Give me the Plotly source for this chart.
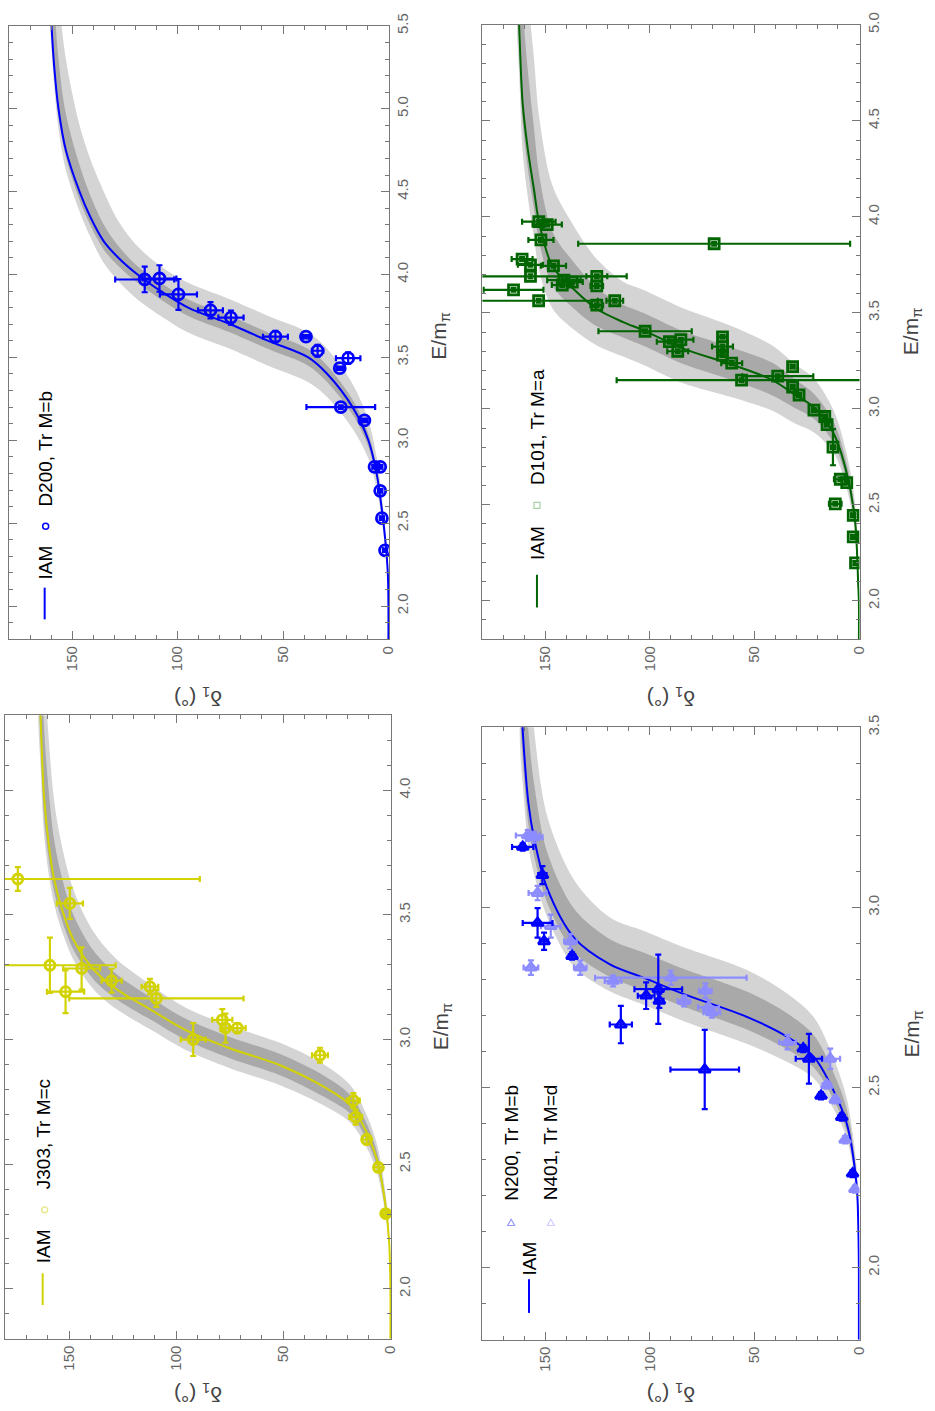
import plotly.graph_objects as go

# ---------------- D200 (Tr M=b) ----------------
D200_CURVE_DELTA = [0, 0, 0.3, 1.5, 3.3, 5.6, 9.5, 17, 29, 38, 57, 75, 95, 108, 119, 128, 135, 141.5, 146.5, 153, 156.5, 158.5, 160, 162]
D200_CURVE_E = [1.80, 2.00, 2.20, 2.40, 2.60, 2.80, 3.00, 3.20, 3.40, 3.50, 3.60, 3.70, 3.80, 3.90, 4.00, 4.10, 4.20, 4.35, 4.50, 4.75, 5.00, 5.25, 5.55, 6.20]
D200_LIGHT_HI = [2.26, 2.47, 2.68, 2.90, 3.12, 3.34, 3.55, 3.65, 3.75, 3.85, 3.95, 4.05, 4.17, 4.32, 4.50, 4.70, 4.90, 5.30, 5.70, 6.15, 6.75, 7.70]
D200_LIGHT_LO = [2.15, 2.34, 2.53, 2.71, 2.89, 3.07, 3.26, 3.35, 3.45, 3.55, 3.65, 3.75, 3.85, 3.96, 4.07, 4.23, 4.38, 4.63, 4.88, 5.13, 5.40, 5.90]
D200_DARK_HI = [2.22, 2.425, 2.63, 2.835, 3.04, 3.245, 3.45, 3.55, 3.65, 3.75, 3.85, 3.95, 4.05, 4.17, 4.30, 4.48, 4.66, 4.97, 5.30, 5.65, 6.05, 6.90]
D200_DARK_LO = [2.18, 2.375, 2.57, 2.765, 2.96, 3.155, 3.35, 3.45, 3.55, 3.65, 3.75, 3.85, 3.95, 4.05, 4.15, 4.30, 4.45, 4.71, 4.96, 5.21, 5.51, 6.10]
D200_E = [3.97, 3.976, 3.88, 3.784, 3.74, 3.625, 3.625, 3.54, 3.495, 3.435, 3.20, 3.12, 2.84, 2.84, 2.695, 2.53, 2.336]
D200_DELTA = [115.6, 108.6, 99.6, 84.4, 74.7, 53.6, 39.1, 33.6, 19.1, 23.1, 22.6, 11.4, 6.6, 3.9, 3.9, 3.1, 1.6]
D200_DDELTA = [14, 8, 8.8, 5.9, 6, 5.9, 1.5, 2.7, 5.8, 1.5, 16.3, 1.5, 1, 1, 1, 1, 1]
D200_DE = [0.077, 0.08, 0.093, 0.049, 0.043, 0.035, 0.01, 0.035, 0.035, 0.01, 0.01, 0.01, 0.01, 0.01, 0.01, 0.01, 0.01]

# ---------------- D101 (Tr M=a) ----------------
D101_CURVE_DELTA = [0, 0, 0.3, 1.9, 5.8, 12, 21.4, 30.8, 41.8, 60.7, 84.3, 103.2, 112.7, 125.3, 136.3, 146.5, 152.8, 155.3, 158.5, 160.8, 162.4, 163.5]
D101_CURVE_E = [1.80, 2.00, 2.08, 2.425, 2.664, 2.87, 3.007, 3.075, 3.152, 3.23, 3.315, 3.41, 3.452, 3.52, 3.623, 3.743, 3.966, 4.14, 4.37, 4.60, 4.99, 5.30]
D101_LIGHT_HI = [2.16, 2.515, 2.764, 2.99, 3.157, 3.235, 3.332, 3.43, 3.525, 3.62, 3.662, 3.78, 3.953, 4.163, 4.516, 4.82, 5.19, 5.60, 6.19, 6.70]
D101_LIGHT_LO = [2.02, 2.355, 2.584, 2.77, 2.877, 2.925, 2.992, 3.06, 3.135, 3.23, 3.272, 3.33, 3.413, 3.523, 3.716, 3.89, 4.12, 4.35, 4.74, 5.00]
D101_DARK_HI = [2.12, 2.465, 2.714, 2.93, 3.077, 3.155, 3.242, 3.32, 3.405, 3.50, 3.542, 3.63, 3.763, 3.923, 4.216, 4.46, 4.79, 5.12, 5.61, 6.02]
D101_DARK_LO = [2.05, 2.395, 2.624, 2.82, 2.947, 3.005, 3.072, 3.15, 3.235, 3.33, 3.372, 3.43, 3.523, 3.643, 3.866, 4.04, 4.27, 4.50, 4.89, 5.18]
D101_E = [3.975, 3.96, 3.88, 3.86, 3.78, 3.75, 3.745, 3.69, 3.69, 3.64, 3.67, 3.645, 3.66, 3.62, 3.563, 3.563, 3.54,
          3.404, 3.35, 3.36, 3.30, 3.375, 3.324, 3.28, 3.238, 3.149, 3.17, 3.22, 3.113, 3.072, 2.993, 2.96, 2.918,
          2.80, 2.633, 2.616, 2.505, 2.445, 2.333, 2.197]
D101_DELTA = [153, 149, 152, 69.2, 161, 157, 146, 157, 125.3, 125.3, 141, 141.8, 137, 165.1, 153.1, 116.7, 125.3,
              102.2, 90.6, 85.1, 86.6, 65.2, 65.2, 65.2, 60.8, 56.1, 38.8, 31.7, 31.7, 28.6, 21.5, 16.3, 15.2,
              12.4, 8.9, 5.8, 11.3, 2.7, 2.7, 1.6]
D101_DDELTA = [8, 7, 6, 65, 5, 6, 6, 46, 5, 3, 8, 5, 5, 14.3, 28.3, 4, 3,
               22.3, 6, 6, 5, 2, 5, 2, 5, 59.7, 17, 1, 1, 1, 1, 1, 1,
               1, 3, 1, 3, 1, 1, 1]
D101_DE = [0.01] * 33 + [0.094] + [0.01] * 6

# ---------------- J303 (Tr M=c) ----------------
J303_CURVE_DELTA = [0, 0, 0.6, 2.2, 6.0, 10.7, 18.5, 31, 51, 75, 96, 112, 127.6, 138.5, 148, 154, 157.2, 159.5, 161.8, 163.4, 164.5]
J303_CURVE_E = [1.80, 2.00, 2.19, 2.33, 2.51, 2.62, 2.735, 2.81, 2.895, 2.965, 3.04, 3.12, 3.20, 3.28, 3.40, 3.54, 3.65, 3.78, 3.98, 4.30, 4.60]
J303_LIGHT_HI = [2.23, 2.38, 2.57, 2.69, 2.815, 2.90, 2.985, 3.055, 3.13, 3.22, 3.32, 3.43, 3.60, 3.80, 3.97, 4.20, 4.53, 5.05, 5.60]
J303_LIGHT_LO = [2.16, 2.29, 2.46, 2.56, 2.665, 2.735, 2.815, 2.885, 2.96, 3.04, 3.12, 3.20, 3.32, 3.45, 3.55, 3.66, 3.83, 4.10, 4.30]
J303_DARK_HI = [2.21, 2.35, 2.54, 2.655, 2.775, 2.855, 2.94, 3.01, 3.085, 3.17, 3.26, 3.355, 3.50, 3.67, 3.81, 3.99, 4.26, 4.68, 5.10]
J303_DARK_LO = [2.175, 2.31, 2.485, 2.59, 2.70, 2.77, 2.855, 2.925, 3.00, 3.08, 3.16, 3.24, 3.36, 3.495, 3.60, 3.72, 3.90, 4.20, 4.45]
J303_E = [3.644, 3.546, 3.298, 3.285, 3.192, 3.236, 3.212, 3.165, 3.00, 3.079, 3.046, 3.046, 2.937, 2.755, 2.689, 2.599, 2.487, 2.302]
J303_DELTA = [174.0, 149.7, 159.0, 144.2, 151.7, 130.2, 112.3, 109.3, 92.1, 78.5, 77.0, 71.5, 32.9, 17.3, 16.2, 11.1, 5.6, 2.2]
J303_DDELTA = [85.0, 6.1, 30.7, 8.6, 8.7, 4.7, 3.9, 40.7, 5.8, 4.7, 2, 3.9, 3.7, 3, 3, 2, 2, 1.5]
J303_DE = [0.048, 0.062, 0.111, 0.085, 0.086, 0.048, 0.031, 0.034, 0.066, 0.043, 0.058, 0.02, 0.03, 0.03, 0.03, 0.02, 0.015, 0.01]

# ---------------- N200 (Tr M=b) / N401 (Tr M=d) ----------------
N200_CURVE_DELTA = [0, 0, 0.3, 1.1, 5.8, 12, 21.5, 34, 53, 84, 103, 119, 136, 149, 155.2, 158, 160.8, 162]
N200_CURVE_E = [1.80, 2.00, 2.12, 2.23, 2.40, 2.49, 2.585, 2.64, 2.695, 2.76, 2.805, 2.842, 2.915, 3.053, 3.19, 3.29, 3.50, 3.65]
N200_LIGHT_HI = [2.16, 2.28, 2.47, 2.58, 2.695, 2.76, 2.825, 2.89, 2.935, 2.972, 3.075, 3.253, 3.49, 3.69, 4.05, 4.35]
N200_LIGHT_LO = [2.09, 2.20, 2.36, 2.44, 2.525, 2.57, 2.62, 2.685, 2.73, 2.767, 2.835, 2.973, 3.09, 3.17, 3.35, 3.45]
N200_DARK_HI = [2.14, 2.26, 2.44, 2.54, 2.645, 2.705, 2.765, 2.83, 2.875, 2.912, 2.995, 3.153, 3.34, 3.49, 3.80, 4.05]
N200_DARK_LO = [2.105, 2.215, 2.38, 2.465, 2.555, 2.605, 2.66, 2.725, 2.77, 2.807, 2.875, 3.013, 3.14, 3.23, 3.42, 3.55]
N200_E = [3.168, 3.09, 2.957, 2.906, 2.865, 2.755, 2.773, 2.741, 2.675, 2.55, 2.608, 2.58, 2.477, 2.418, 2.261]
N200_DELTA = [160.7, 151.3, 153.6, 150.5, 137.1, 101.7, 95.9, 95.4, 113.8, 73.7, 26.6, 23.9, 18.1, 8.2, 3.0]
N200_DDELTA = [5.1, 2, 7.1, 2, 1.5, 4, 11.4, 2, 5.3, 16.4, 1.5, 6.3, 1.5, 1.5, 1]
N200_DE = [0.01, 0.025, 0.041, 0.024, 0.01, 0.037, 0.096, 0.02, 0.052, 0.11, 0.01, 0.069, 0.01, 0.01, 0.01]
N401_E = [3.20, 3.195, 3.04, 2.948, 2.906, 2.833, 2.833, 2.796, 2.805, 2.74, 2.769, 2.723, 2.709, 2.626, 2.58, 2.507, 2.466, 2.355, 2.218]
N401_DELTA = [158.3, 155.2, 153.6, 147.3, 137.9, 133.2, 156.8, 117.5, 89.9, 83.6, 73.4, 71.9, 70.3, 34.1, 13.7, 15.3, 11.3, 6.6, 1.9]
N401_DDELTA = [5.7, 4, 4.3, 4.7, 3, 3, 3.5, 4, 36.2, 3, 3, 5, 4, 4, 4.7, 2, 1.5, 1, 1]
N401_DE = [0.015, 0.015, 0.02, 0.032, 0.02, 0.02, 0.02, 0.015, 0.02, 0.015, 0.02, 0.02, 0.015, 0.02, 0.028, 0.01, 0.01, 0.01, 0.01]

DELTA_TICKS = [0, 50, 100, 150]

W, H = 935, 1411
LIGHT = "#d4d4d4"
DARK = "#a9a9a9"
BLUE = "#0000ff"
GREEN = "#006400"
YELLOW = "#d2d200"
LBLUE = "#8c8cff"
FONT = "Liberation Sans, Arial, sans-serif"

fig = go.Figure()


def band(ax, levels, lo, hi, color):
    fig.add_trace(go.Scatter(
        x=list(levels) + list(levels)[::-1], y=list(lo) + list(hi)[::-1],
        xaxis="x" + ax, yaxis="y" + ax, mode="lines", fill="toself",
        fillcolor=color, line=dict(width=0, color=color, shape="spline", smoothing=0.9),
        hoverinfo="skip"))


def curve(ax, d, e, color):
    fig.add_trace(go.Scatter(x=d, y=e, xaxis="x" + ax, yaxis="y" + ax, mode="lines",
                             line=dict(color=color, width=2, shape="spline", smoothing=0.9)))


def points(ax, d, e, dd, de, color, symbol, size=10):
    fig.add_trace(go.Scatter(
        x=d, y=e, xaxis="x" + ax, yaxis="y" + ax, mode="markers",
        marker=dict(symbol=symbol, size=size, color=color, line=dict(width=2.8, color=color)),
        error_x=dict(type="data", array=dd, color=color, thickness=2.2, width=3),
        error_y=dict(type="data", array=de, color=color, thickness=2.2, width=3)))


panels = [
    ("", D200_CURVE_DELTA, D200_CURVE_E, D200_LIGHT_LO, D200_LIGHT_HI, D200_DARK_LO, D200_DARK_HI, BLUE),
    ("2", D101_CURVE_DELTA, D101_CURVE_E, D101_LIGHT_LO, D101_LIGHT_HI, D101_DARK_LO, D101_DARK_HI, GREEN),
    ("3", J303_CURVE_DELTA, J303_CURVE_E, J303_LIGHT_LO, J303_LIGHT_HI, J303_DARK_LO, J303_DARK_HI, YELLOW),
    ("4", N200_CURVE_DELTA, N200_CURVE_E, N200_LIGHT_LO, N200_LIGHT_HI, N200_DARK_LO, N200_DARK_HI, BLUE),
]
for ax, cd, ce, llo, lhi, dlo, dhi, col in panels:
    lev = cd[2:]
    band(ax, lev, llo, lhi, LIGHT)
    band(ax, lev, dlo, dhi, DARK)
    curve(ax, cd, ce, col)

points("", D200_DELTA, D200_E, D200_DDELTA, D200_DE, BLUE, "circle-open", 11)
points("2", D101_DELTA, D101_E, D101_DDELTA, D101_DE, GREEN, "square-open", 10)
points("3", J303_DELTA, J303_E, J303_DDELTA, J303_DE, YELLOW, "circle-open", 10)
points("4", N401_DELTA, N401_E, N401_DDELTA, N401_DE, LBLUE, "triangle-up-open", 10)
points("4", N200_DELTA, N200_E, N200_DDELTA, N200_DE, BLUE, "triangle-up-open", 10)


def px_x(p):
    return p / W


def px_y(p):
    return 1 - p / H


# panel frames in pixels: (left, right, top, bottom), E max
frames = {
    "": (9, 392, 13, 632, 5.5),
    "2": (486, 866, 12, 632, 5.0),
    "3": (5, 394, 709, 1338, 4.3),
    "4": (486, 866, 721, 1339, 3.5),
}
layout = {}
for ax, (l, r, t, b, emax) in frames.items():
    common = dict(showline=True, linecolor="#777", linewidth=1, mirror="ticks",
                  ticks="inside", tickcolor="#777", ticklen=8, showgrid=False, zeroline=False,
                  tickfont=dict(size=15, color="#666", family=FONT), tickangle=-90)
    layout["xaxis" + ax] = dict(
        domain=[px_x(l), px_x(r)], anchor="y" + ax, range=[180, -0.3],
        tickvals=DELTA_TICKS, minor=dict(dtick=10, ticklen=4, ticks="inside", tickcolor="#777"),
        **common)
    layout["yaxis" + ax] = dict(
        domain=[px_y(b), px_y(t)], anchor="x" + ax, range=[1.8, emax], side="right",
        dtick=0.5, tick0=0, tickformat=".1f",
        minor=dict(dtick=0.1, ticklen=4, ticks="inside", tickcolor="#777"),
        **common)

fig.update_layout(**layout)

annotations = []
shapes = []


def text(x, y, s, size=19, color="black", angle=-90):
    annotations.append(dict(x=px_x(x), y=px_y(y), xref="paper", yref="paper", text=s,
                            showarrow=False, textangle=angle, xanchor="center", yanchor="middle",
                            font=dict(size=size, color=color, family=FONT)))


def vline(x, y0, y1, color):
    shapes.append(dict(type="line", xref="paper", yref="paper", x0=px_x(x), x1=px_x(x),
                       y0=px_y(y0), y1=px_y(y1), line=dict(color=color, width=2)))


def circ(x, y, r, color):
    shapes.append(dict(type="circle", xref="paper", yref="paper", x0=px_x(x - r), x1=px_x(x + r),
                       y0=px_y(y + r), y1=px_y(y - r), line=dict(color=color, width=1.5)))


def sq(x, y, r, color):
    shapes.append(dict(type="rect", xref="paper", yref="paper", x0=px_x(x - r), x1=px_x(x + r),
                       y0=px_y(y + r), y1=px_y(y - r), line=dict(color=color, width=1.2)))


def tri(x, y, r, color):
    path = "M {} {} L {} {} L {} {} Z".format(px_x(x - r), px_y(y + r * 0.8), px_x(x + r), px_y(y + r * 0.8),
                                            px_x(x), px_y(y - r))
    shapes.append(dict(type="path", xref="paper", yref="paper", path=path, line=dict(color=color, width=1.2)))


# legends
vline(45, 580, 612, BLUE)
text(46, 555, "IAM")
circ(46, 518, 3, BLUE)
text(46, 440, "D200, Tr M=b")

vline(541, 567, 600, GREEN)
text(541, 535, "IAM")
sq(541, 497, 3, "#a8d0a8")
text(541, 418, "D101, Tr M=a")

vline(43, 1272, 1304, YELLOW)
text(44, 1245, "IAM")
circ(45, 1208, 3, "#e8e890")
text(44, 1132, "J303, Tr M=c")

vline(533, 1278, 1312, BLUE)
text(533, 1257, "IAM")
tri(515, 1221, 3.5, "#9a9aff")
text(515, 1140, "N200, Tr M=b")
tri(555, 1221, 3.5, "#cfcfff")
text(555, 1140, "N401, Tr M=d")

# axis titles
for (ex, ey) in [(443, 326), (919, 322), (445, 1023), (919, 1031)]:
    text(ex, ey, "E/m<sub>π</sub>", size=21, color="#444")
for (dx, dy) in [(200, 691), (676, 691), (200, 1393), (676, 1393)]:
    text(dx, dy, "δ<sub>1</sub> (°)", size=21, color="#444", angle=180)

fig.update_layout(annotations=annotations, shapes=shapes, width=W, height=H,
                  margin=dict(l=0, r=0, t=0, b=0), showlegend=False,
                  paper_bgcolor="white", plot_bgcolor="white", font=dict(family=FONT))

fig.write_html("out.html")
